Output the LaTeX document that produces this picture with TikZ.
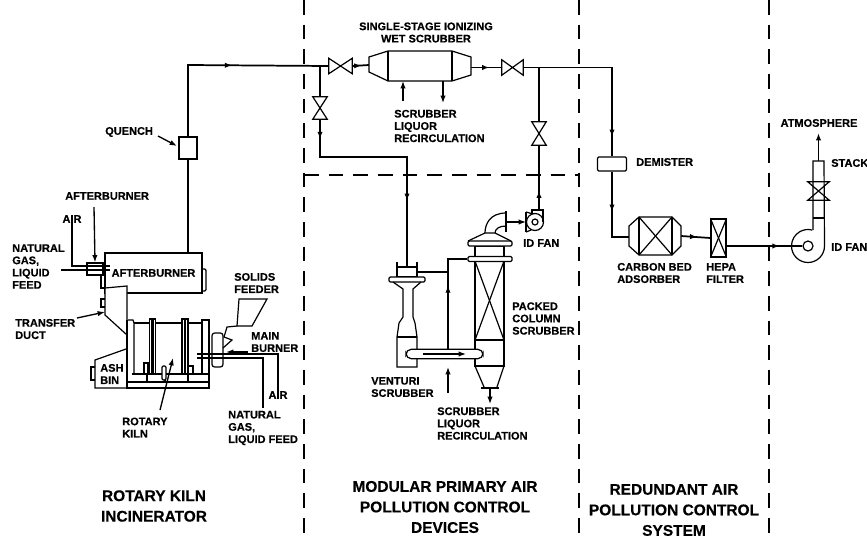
\documentclass[tikz,border=0pt]{standalone}
\usepackage{fontspec}
\setmainfont{Liberation Sans}[BoldFeatures={FakeBold=0.4}]
\usetikzlibrary{arrows.meta,decorations.markings}
\tikzset{
  lbl/.style={font=\bfseries\fontsize{8.25}{9.2}\selectfont,align=left,anchor=west,inner sep=0pt},
  lblc/.style={font=\bfseries\fontsize{8.25}{9.2}\selectfont,align=center,inner sep=0pt},
  title/.style={font=\bfseries\fontsize{11.6}{15.4}\selectfont,align=center,inner sep=0pt},
  pipe/.style={line width=1.3pt},
  thin line/.style={line width=0.9pt},
  lead/.style={line width=1pt,-{Latex[length=5.5pt,width=4pt]}},
  zone/.style={line width=0.8pt,dash pattern=on 11pt off 7.5pt},
  unit/.style={draw,line width=0.9pt,fill=white,inner sep=0pt},
  valve/.style={inner sep=0pt,minimum width=#1},
  flow/.style={decoration={markings,mark=at position #1 with {\arrow{Latex[length=5.5pt,width=4pt]}}},postaction={decorate}},
  flowtwo/.style 2 args={decoration={markings,mark=at position #1 with {\arrow{Latex[length=5.5pt,width=4pt]}},mark=at position #2 with {\arrow{Latex[length=5.5pt,width=4pt]}}},postaction={decorate}}
}
\newcommand{\valvebody}[1]{\draw[thin line,fill=white] (#1.north west) -- (#1.south east) -- (#1.north east) -- (#1.south west) -- cycle;}
\newcommand{\valveup}[1]{\draw[thin line,fill=white] (#1.north west) -- (#1.north east) -- (#1.south west) -- (#1.south east) -- cycle;}
\begin{document}
\begin{tikzpicture}[x=0.75pt,y=0.75pt,yscale=-1,xscale=1]
\useasboundingbox (0,0) rectangle (867,540);

%Zone lines
\coordinate (zonea) at (304,0);
\coordinate (zoneaend) at (304,540);
\coordinate (zoneb) at (579,0);
\coordinate (zonebend) at (579,540);
\coordinate (zonec) at (769,0);
\coordinate (zonecend) at (769,540);
\coordinate (zoned) at (304,175);
\coordinate (zonedend) at (579,175);
\draw[zone] (zonea) -- (zoneaend);
\draw[zone] (zoneb) -- (zonebend);
\draw[zone] (zonec) -- (zonecend);
\draw[zone] (zoned) -- (zonedend);

%Shape: Afterburner
\node (aftb) [unit,minimum width=97*0.75pt,minimum height=40*0.75pt,font=\bfseries\fontsize{8.25}{9.2}\selectfont] at (153.5,273) {AFTERBURNER};
\draw[thin line,rounded corners=1pt] (202,269) -- (206,269) -- (206,291) -- (202,291);
\draw[thin line] (101,275) -- (101,288) -- (105,288);
\node (abburn) [unit,minimum width=16*0.75pt,minimum height=12*0.75pt] at (95,269) {};

%Shape: Transfer duct
\draw[thin line,fill=white] (105,288) -- (127,286) -- (127,335) -- (105,315) -- cycle;
\draw[thin line] (105,299) -- (101,299) -- (101,307) -- (105,307);

%Shape: Ash bin
\draw[thin line] (126,349) -- (95,360) -- (95,388) -- (127,388);
\draw[thin line] (95,367) -- (91,367) -- (91,380) -- (95,380);

%Shape: Kiln
\draw[thin line] (127,335) -- (127,388) -- (209,388) -- (209,320) -- (202,320) -- (202,374);
\draw[thin line] (128,320) -- (133,320) -- (134,323) -- (134,374);
\draw[thin line] (127,320) -- (127,335);
\draw[thin line] (134,323) -- (202,323);
\draw[thin line] (132,374) -- (209,374);
\draw[thin line] (127,382) -- (209,382);
\draw[thin line,fill=white] (149.5,319) rectangle (155.5,374);
\draw[line width=2.2pt] (152.5,319) -- (152.5,374);
\draw[thin line,fill=white] (182,319) rectangle (188,374);
\draw[line width=2.2pt] (185,319) -- (185,374);
\draw[thin line,fill=white] (144,363) rectangle (148,374);
\draw[thin line,fill=white,rounded corners=1pt] (162,366) rectangle (166,380);
\draw[thin line,fill=white] (188,366) rectangle (193,374);
\draw[thin line] (147,374) -- (147,382);
\draw[thin line] (165,380) -- (165,382);
\draw[thin line] (188,374) -- (188,382);

%Shape: Burner plate and feeder
\node (bplate) [unit,rounded corners=2pt,minimum width=11*0.75pt,minimum height=34*0.75pt] at (217.5,350) {};
\draw[thin line] (239,299) -- (267,299) -- (252,326) -- (237,326) -- cycle;
\draw[thin line] (237,326) -- (227,327) -- (224,337) -- (232,340) -- (223,348);

%Shape: Quench and top pipe
\node (quench) [unit,minimum width=18*0.75pt,minimum height=22*0.75pt] at (188,148) {};
\node (v1) [valve=23*0.75pt,minimum height=15*0.75pt] at (340.5,66) {};
\node (v2) [valve=14*0.75pt,minimum height=22*0.75pt] at (320,108) {};
\node (v3) [valve=21*0.75pt,minimum height=15*0.75pt] at (512.5,67.5) {};
\node (v4) [valve=14*0.75pt,minimum height=23*0.75pt] at (539,133.5) {};
\coordinate (scrubl) at (369,65);
\coordinate (scrubr) at (471,67.5);
\coordinate (tee1) at (320,66);
\coordinate (tee2) at (539,67.5);
\coordinate (cornera) at (188,65);
\draw[pipe] (aftb.north -| quench) -- (quench.south);
\draw[pipe,flow=0.545] (quench.north) -- (cornera) -- (v1.west);
\draw[pipe,flow=0.55] (v1.east) -- (scrubl);
\draw[pipe,flow=0.6] (scrubr) -- (v3.west);
\draw[pipe] (tee1) -- (v2.north);
\draw[pipe] (tee2) -- (v4.north);
\valvebody{v1}
\valvebody{v3}
\valveup{v2}
\valveup{v4}

%Shape: Wet scrubber
\draw[thin line,fill=white] (369,57) -- (388,51) -- (452,51) -- (471,57) -- (471,75) -- (452,81) -- (388,81) -- (369,72) -- cycle;
\draw[thin line] (388,51) -- (388,81);
\draw[thin line] (452,51) -- (452,81);
\coordinate (liqin) at (403,101);
\coordinate (liqinend) at (403,81);
\coordinate (liqout) at (443,81);
\coordinate (liqoutend) at (443,103);
\draw[lead] (liqin) -- (liqinend);
\draw[lead] (liqout) -- (liqoutend);

%Shape: Venturi
\node (venttop) [unit,minimum width=20*0.75pt,minimum height=10*0.75pt] at (407,272) {};
\node (ventfl) [unit,rounded corners=1pt,minimum width=36*0.75pt,minimum height=5*0.75pt] at (407,279.5) {};
\draw[thin line] (397,267) -- (397,262);
\draw[thin line] (417,267) -- (417,262);
\draw[thin line] (393,282) -- (403,289) -- (403,317) -- (399,323) -- (397,337) -- (397,367) -- (417,367) -- (417,337) -- (415,323) -- (413,317) -- (413,289) -- (421,282);
\draw[thin line] (397,337) -- (417,337);
\coordinate (leftdrop) at (320,157);
\coordinate (rightdrop) at (407,157);
\draw[pipe,flowtwo={0.085}{0.72}] (v2.south) -- (leftdrop) -- (rightdrop) -- (venttop.north);

%Shape: Packed column
\draw[thin line] (475,246) rectangle (504,366);
\draw[thin line] (475,340) -- (504,340);
\draw[thin line] (475,261) -- (504,340);
\draw[thin line] (504,261) -- (475,340);
\draw[thin line] (475,366) -- (484,387);
\draw[thin line] (504,366) -- (497,387);
\node (flangeb) [unit,rounded corners=1pt,minimum width=44*0.75pt,minimum height=5*0.75pt] at (490,259) {};
\node (flangea) [unit,rounded corners=1pt,minimum width=44*0.75pt,minimum height=5*0.75pt] at (490,243.5) {};
\node (flangec) [unit,minimum width=16*0.75pt,minimum height=1*0.75pt] at (490,388) {};
\coordinate (colout) at (490,404);
\draw[lead] (flangec.south) -- (colout);

%Shape: Tube between venturi and column
\node (tube) [unit,rounded corners=4pt,minimum width=77*0.75pt,minimum height=9.5*0.75pt] at (444.5,354) {};
\coordinate (tubea) at (423,354);
\coordinate (tubeb) at (466,354);
\draw[lead] (tubea) -- (tubeb);
\coordinate (riser) at (448,272);
\coordinate (risertop) at (448,259);
\draw[pipe,flow=0.58] (tube.north -| riser) -- (risertop) -- (flangeb.west);
\draw[pipe] (venttop.east) -- (riser);
\coordinate (liqup) at (448,393);
\coordinate (liqupend) at (448,367);
\draw[lead] (liqup) -- (liqupend);

%Shape: Small ID fan and elbow
\draw[thin line] (485,233) .. controls (485,224) and (490,213) .. (506,213);
\draw[thin line] (495,233) .. controls (495,229) and (499,226) .. (506,226);
\draw[thin line] (468,241) -- (485,233) -- (495,233) -- (511,241);
\coordinate (elbow) at (506,222);
\draw[pipe] (506,211) -- (506,232);
\node (fana) [unit,circle,minimum size=17*0.75pt] at (535,222) {};
\node (huba) [unit,circle,minimum size=6*0.75pt] at (535,222) {};
\draw[thin line] (526,212) -- (533,214);
\draw[thin line] (526,232) -- (531,230);
\draw[thin line] (526,212) -- (526,232);
\draw[thin line] (532,213) -- (532,210) -- (543,210) -- (543,222);
\coordinate (fanatop) at (539,210);
\draw[pipe,flow=0.3] (fanatop) -- (v4.south);
\coordinate (fanain) at (526,222);
\draw[lead] (elbow) -- (fanain);

%Shape: Demister to filter
\node (demist) [unit,rounded corners=1pt,minimum width=29*0.75pt,minimum height=14*0.75pt] at (612,164) {};
\coordinate (cornerb) at (612,67.5);
\coordinate (cornerc) at (612,237);
\draw[pipe,flow=0.89] (v3.east) -- (cornerb) -- (demist.north);
\node (carbon) [minimum width=52*0.75pt,minimum height=38*0.75pt,inner sep=0pt] at (655,236) {};
\draw[pipe,flow=0.49] (demist.south) -- (cornerc) -- (carbon.west |- cornerc);
\draw[thin line,fill=white] (629,226) -- (639,217) -- (672,217) -- (681,226) -- (681,246) -- (672,255) -- (639,255) -- (629,246) -- cycle;
\draw[thin line] (639,217) -- (639,255);
\draw[thin line] (672,217) -- (672,255);
\draw[thin line] (639,217) -- (672,255);
\draw[thin line] (672,217) -- (639,255);
\node (hepa) [unit,minimum width=15*0.75pt,minimum height=38*0.75pt] at (718.5,238) {};
\draw[thin line] (hepa.north west) -- (hepa.south east);
\draw[thin line] (hepa.north east) -- (hepa.south west);
\draw[pipe,flow=0.55] (carbon.east) -- (hepa.west);

%Shape: Main ID fan and stack
\node (hubb) [unit,circle,minimum size=10*0.75pt] at (808,246) {};
\draw[thin line] (824.5,246) arc[start angle=0,end angle=285,radius=16.5];
\draw[thin line] (813,230) -- (813,161) -- (824,161) -- (824.5,246);
\draw[thin line] (813,218) -- (824,218);
\node (v5) [valve=21*0.75pt,minimum height=18*0.75pt] at (818.5,191) {};
\draw[thin line] (v5.north west) -- (v5.north east) -- (v5.south west) -- (v5.south east) -- cycle;
\coordinate (stacktop) at (818.5,161);
\coordinate (stackend) at (818.5,133);
\draw[lead,line width=1.3pt] (stacktop) -- (stackend);
\draw[pipe,flow=0.7] (hepa.east |- hubb) -- (hubb.west);

% Text Node
\node (lblscrub) [lblc] at (426,32.5) {SINGLE-STAGE IONIZING\\WET SCRUBBER};
\node (lblliqa) [lbl] at (394,126) {SCRUBBER\\LIQUOR\\RECIRCULATION};
\node (lblquench) [lbl] at (105,132) {QUENCH};
\node (lblab) [lbl] at (65,196) {AFTERBURNER};
\node (lblaira) [lblc] at (72,219) {AIR};
\node (lblgasa) [lbl] at (12,266.5) {NATURAL\\GAS,\\LIQUID\\FEED};
\node (lbltrans) [lbl] at (15,329) {TRANSFER\\DUCT};
\node (lblash) [lbl] at (100,374) {ASH\\BIN};
\node (lblsolids) [lbl] at (234,283) {SOLIDS\\FEEDER};
\node (lblmain) [lbl] at (251,342) {MAIN\\BURNER};
\node (lblairb) [lblc] at (278,395) {AIR};
\node (lblgasb) [lbl] at (228,428) {NATURAL\\GAS,\\LIQUID FEED};
\node (lblkiln) [lbl] at (122,427.5) {ROTARY\\KILN};
\node (lblidfana) [lbl] at (523,243) {ID FAN};
\node (lblpacked) [lbl] at (512,318.5) {PACKED\\COLUMN\\SCRUBBER};
\node (lblventuri) [lbl] at (371,387) {VENTURI\\SCRUBBER};
\node (lblliqb) [lbl] at (437,423.5) {SCRUBBER\\LIQUOR\\RECIRCULATION};
\node (lbldemist) [lbl] at (636,162) {DEMISTER};
\node (lblcarbon) [lbl] at (617,273) {CARBON BED\\ADSORBER};
\node (lblhepa) [lbl] at (706,273) {HEPA\\FILTER};
\node (lblatm) [lblc] at (819,123) {ATMOSPHERE};
\node (lblstack) [lbl] at (831,163) {STACK};
\node (lblidfanb) [lbl] at (831,247) {ID FAN};
\node (titlea) [title] at (154,506) {ROTARY KILN\\INCINERATOR};
\node (titleb) [title] at (445,507) {MODULAR PRIMARY AIR\\POLLUTION CONTROL\\DEVICES};
\node (titlec) [title] at (674,510) {REDUNDANT AIR\\POLLUTION CONTROL\\SYSTEM};

%Leaders to the labels
\coordinate (quenchtail) at (158,136);
\coordinate (quenchtip) at (177,146);
\draw[lead] (quenchtail) -- (quenchtip);
\coordinate (abtail) at (94,207);
\draw[lead] (abtail) -- (abburn.north);
\coordinate (aircorner) at (72,266);
\coordinate (abin) at (110,266);
\draw[thin line] (lblaira.south) -- (aircorner) -- (abin);
\coordinate (gasa) at (61,270);
\coordinate (gasaend) at (110,270);
\draw[thin line] (gasa) -- (gasaend);
\coordinate (transtail) at (77,318);
\coordinate (transtip) at (105,312);
\draw[lead] (transtail) -- (transtip);
\coordinate (kilntail) at (160,410);
\coordinate (kilntip) at (173,358);
\draw[lead] (kilntail) -- (kilntip);
\coordinate (maintail) at (248,352);
\coordinate (maintip) at (226,352);
\draw[lead] (maintail) -- (maintip);
\coordinate (burnair) at (197,354);
\coordinate (burngas) at (197,358);
\coordinate (gasdown) at (263,408);
\draw[thin line] (lblairb.north) |- (burnair);
\draw[thin line] (gasdown) |- (burngas);

\end{tikzpicture}
\end{document}
